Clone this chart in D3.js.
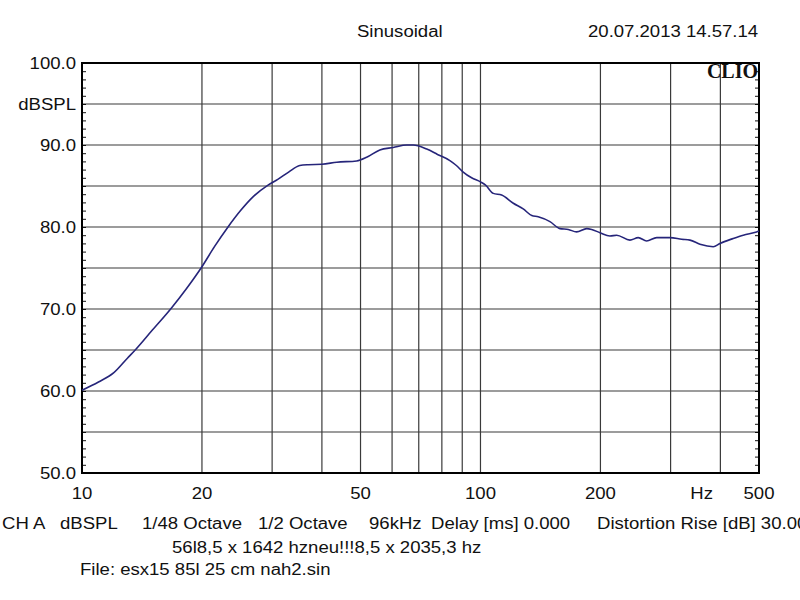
<!DOCTYPE html>
<html>
<head>
<meta charset="utf-8">
<script src="https://cdn.jsdelivr.net/npm/d3@7"></script>
<style>
  body { margin: 0; background: #fff; }
  svg text { font-family: "Liberation Sans", Arial, sans-serif; fill: #111; }
</style>
</head>
<body>
<div id="chart"></div>
<script>
// measured response (Hz / dB SPL)
var freqs = [10, 11, 12, 13, 13.6, 15, 16.75, 18.3, 19.9, 21.5, 23.25, 25, 26.9, 29.3, 31, 33, 35.2, 37, 40, 43.6,
  48.9, 51.8, 55.9, 60.4, 65.3, 67.8, 73.3, 78, 83.8, 87, 90.5, 95, 100, 103, 107.7, 113, 120.9, 128, 134.5, 139.6,
  149.4, 158.3, 166.1, 174.3, 184.8, 190.1, 199.5, 211.3, 219.7, 237.2, 248.9, 261.2, 276.8, 299, 320, 335.6,
  355.5, 383.9, 399, 430.9, 456.5, 493, 500];
var spl = [60.1, 61.1, 62.2, 64.0, 65.0, 67.4, 70.1, 72.5, 75.0, 77.6, 80.0, 82.0, 83.7, 85.1, 85.8, 86.7, 87.5, 87.6, 87.65, 87.9,
  88.05, 88.5, 89.4, 89.7, 90.0, 90.0, 89.5, 88.85, 88.1, 87.5, 86.7, 86.0, 85.5, 85.1, 84.1, 83.9, 82.9, 82.2, 81.4, 81.25,
  80.65, 79.8, 79.7, 79.4, 79.8, 79.7, 79.3, 78.9, 79.0, 78.4, 78.7, 78.3, 78.7, 78.7, 78.5, 78.4,
  77.9, 77.6, 78.0, 78.6, 79.0, 79.4, 79.5];

var xGrid = [20, 30, 40, 50, 60, 70, 80, 90, 100, 200, 300, 400];
var yGrid = [55, 60, 65, 70, 75, 80, 85, 90, 95];
var xLabels = [10, 20, 50, 100, 200, 500];
var yLabels = [100, 90, 80, 70, 60, 50];
var footer1 = [["CH A", 2], ["dBSPL", 60], ["1/48 Octave", 142], ["1/2 Octave", 258], ["96kHz", 369],
  ["Delay [ms] 0.000", 431], ["Distortion Rise [dB] 30.00", 597]];

var W = 800, H = 600;
var pL = 82, pR = 759, pT = 63, pB = 473;
var SX = 1.16; // text in the original is a bit wide

var x = d3.scaleLog().domain([10, 500]).range([pL, pR]);
var y = d3.scaleLinear().domain([50, 100]).range([pB, pT]);

var svg = d3.select("#chart").append("svg")
  .attr("width", W).attr("height", H);

function txt(s, px, py, anchor, size) {
  return svg.append("text")
    .attr("transform", "translate(" + px + "," + py + ") scale(" + SX + ",1)")
    .attr("text-anchor", anchor || "start")
    .style("font-size", (size || 16) + "px")
    .text(s);
}

// grid
svg.append("g").selectAll("line").data(xGrid).enter().append("line")
  .attr("x1", d => x(d)).attr("x2", d => x(d))
  .attr("y1", pT).attr("y2", pB)
  .attr("stroke", "#3a3a3a").attr("stroke-width", 1.2);

svg.append("g").selectAll("line").data(yGrid).enter().append("line")
  .attr("x1", pL).attr("x2", pR)
  .attr("y1", d => y(d)).attr("y2", d => y(d))
  .attr("stroke", "#3a3a3a").attr("stroke-width", 1.2);

// minor ticks, 1 dB, inside on both sides
var minor = d3.range(51, 100);
svg.append("g").attr("transform", "translate(" + pL + ",0)")
  .call(d3.axisLeft(y).tickValues(minor).tickSize(-4).tickFormat(""))
  .call(g => g.select(".domain").remove())
  .selectAll("line").attr("stroke", "#111");
svg.append("g").attr("transform", "translate(" + pR + ",0)")
  .call(d3.axisRight(y).tickValues(minor).tickSize(-4).tickFormat(""))
  .call(g => g.select(".domain").remove())
  .selectAll("line").attr("stroke", "#111");

// frame
svg.append("rect")
  .attr("x", pL).attr("y", pT)
  .attr("width", pR - pL).attr("height", pB - pT)
  .attr("fill", "none").attr("stroke", "#000").attr("stroke-width", 2);

// curve
var line = d3.line()
  .x((d, i) => x(freqs[i]))
  .y(d => y(d))
  .curve(d3.curveMonotoneX);

svg.append("path")
  .datum(spl)
  .attr("d", line)
  .attr("fill", "none")
  .attr("stroke", "#26257a")
  .attr("stroke-width", 1.6);

// axis labels
yLabels.forEach(function (v) {
  txt(v.toFixed(1), pL - 6, y(v) + 6, "end");
});
txt("dBSPL", pL - 6, y(95) + 6, "end");

xLabels.forEach(function (v) {
  txt(String(v), x(v), 499, "middle");
});
txt("Hz", x(359), 499, "middle");

// logo
svg.append("text")
  .attr("x", pR - 1).attr("y", 78)
  .attr("text-anchor", "end")
  .style("font-family", "'Liberation Serif', 'Times New Roman', serif")
  .style("font-weight", "bold")
  .style("font-size", "20px")
  .text("CLIO");

// header
txt("Sinusoidal", 357, 37);
txt("20.07.2013 14.57.14", 588, 37);

// footer
footer1.forEach(function (f) { txt(f[0], f[1], 529); });
txt("56l8,5 x 1642 hzneu!!!8,5 x 2035,3 hz", 172, 553);
txt("File: esx15 85l 25 cm nah2.sin", 80, 575);
</script>
</body>
</html>
